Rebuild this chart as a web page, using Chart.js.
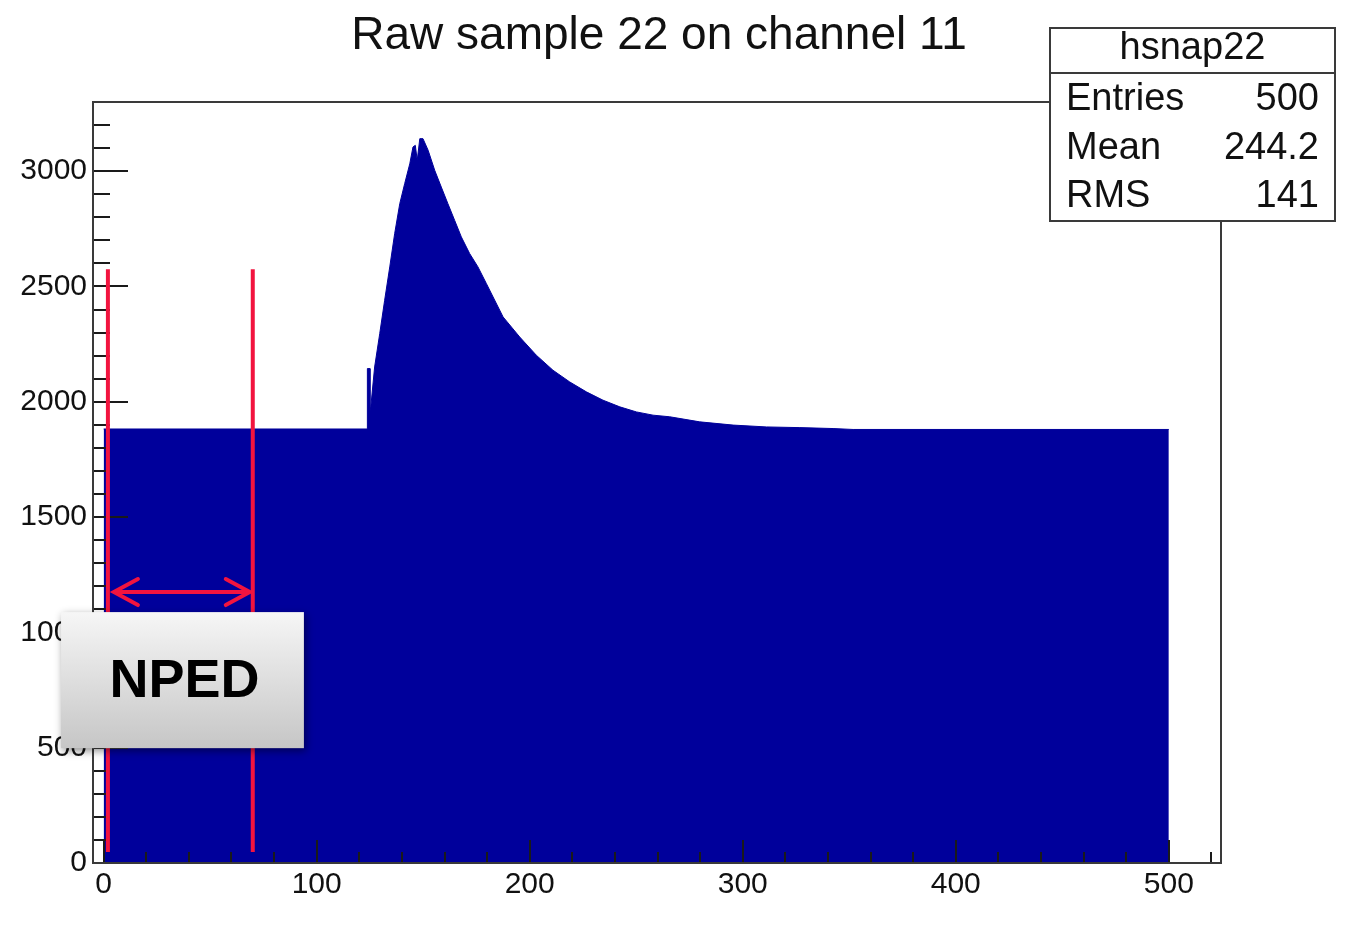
<!DOCTYPE html>
<html>
<head>
<meta charset="utf-8">
<title>Raw sample 22 on channel 11</title>
<script src="https://cdn.jsdelivr.net/npm/chart.js@4.4.0/dist/chart.umd.min.js"></script>
<style>
  html, body { margin: 0; padding: 0; background: #fff; }
  canvas { display: block; }
</style>
</head>
<body>
<canvas id="chart-raw" width="1347" height="929"></canvas>
<script>
// outline of the filled histogram (sample index -> ADC)
const sampleBins = [0, 123.8, 123.8, 125, 125, 125.4, 127.2, 129.6, 131.9, 134.3, 136.6, 139, 141.3, 143.7, 145.2, 146.3, 147.2, 148.4, 149.9, 152.3,
  155.4, 158.5, 161.6, 164.8, 167.9, 171.8, 175.7, 179.7, 187.5, 195.3, 203.1, 210.9, 218.8, 226.6, 234.4, 242.3, 250.1, 257.9, 265.7,
  279.8, 295.5, 311.1, 326.8, 342.4, 351.8, 500];
const adcValues = [1882, 1882, 2144, 2144, 1960, 1978, 2151, 2296, 2440, 2585, 2729, 2859, 2946, 3032, 3105, 3112, 3047, 3141, 3141, 3091,
  3004, 2931, 2859, 2786, 2715, 2643, 2585, 2512, 2368, 2281, 2202, 2137, 2086, 2043, 2007, 1978, 1956, 1942, 1935,
  1913, 1899, 1891, 1888, 1884, 1880, 1880];

const xTickValues = [0, 100, 200, 300, 400, 500];
const yTickValues = [0, 500, 1000, 1500, 2000, 2500, 3000];
const titleText = 'Raw sample 22 on channel 11';
const statsTitle = 'hsnap22';
const statsLabels = ['Entries', 'Mean', 'RMS'];
const statsValues = ['500', '244.2', '141'];
const pedLines = [2, 70];          // red markers (sample index)
const pedArrowY = 1175;
const pedLineRange = [48, 2575];
const pedLabel = 'NPED';

const FONT = '"Liberation Sans", Arial, Helvetica, sans-serif';
const BLUE = '#00009b';
const RED = '#f2143f';

const rootFrame = {
  id: 'rootFrame',
  afterDatasetsDraw(chart) {
    const { ctx, chartArea: a, scales: { x, y } } = chart;
    ctx.save();
    ctx.strokeStyle = '#1a1a1a';
    ctx.lineWidth = 2;
    // x ticks (inside, every 20)
    for (let v = 0; v <= 520; v += 20) {
      const px = Math.round(x.getPixelForValue(v));
      const len = v % 100 === 0 ? 23 : 11;
      ctx.beginPath(); ctx.moveTo(px, a.bottom); ctx.lineTo(px, a.bottom - len); ctx.stroke();
    }
    // y ticks (inside, every 100)
    for (let v = 0; v <= 3300; v += 100) {
      const py = Math.round(y.getPixelForValue(v));
      const len = v % 500 === 0 ? 35 : 17;
      ctx.beginPath(); ctx.moveTo(a.left, py); ctx.lineTo(a.left + len, py); ctx.stroke();
    }
    // frame
    ctx.strokeStyle = '#3a3a3a';
    ctx.strokeRect(a.left, a.top, a.right - a.left, a.bottom - a.top);
    ctx.restore();
  },
  afterDraw(chart) {
    const { ctx, chartArea: a, scales: { x, y } } = chart;
    ctx.save();

    // NPED markers
    ctx.strokeStyle = RED;
    ctx.lineWidth = 4;
    pedLines.forEach(v => {
      const px = x.getPixelForValue(v);
      ctx.beginPath(); ctx.moveTo(px, y.getPixelForValue(pedLineRange[0])); ctx.lineTo(px, y.getPixelForValue(pedLineRange[1])); ctx.stroke();
    });
    const ay = y.getPixelForValue(pedArrowY);
    const ax0 = x.getPixelForValue(pedLines[0]) + 6, ax1 = x.getPixelForValue(pedLines[1]) - 3;
    ctx.beginPath(); ctx.moveTo(ax0, ay); ctx.lineTo(ax1, ay); ctx.stroke();
    ctx.lineCap = 'round';
    ctx.beginPath();
    ctx.moveTo(ax0 + 24, ay - 13); ctx.lineTo(ax0, ay); ctx.lineTo(ax0 + 24, ay + 13);
    ctx.moveTo(ax1 - 24, ay - 13); ctx.lineTo(ax1, ay); ctx.lineTo(ax1 - 24, ay + 13);
    ctx.stroke();

    // NPED label box
    const bx0 = x.getPixelForValue(-20), bx1 = x.getPixelForValue(94);
    const by0 = y.getPixelForValue(1088), by1 = y.getPixelForValue(498);
    const grad = ctx.createLinearGradient(0, by0, 0, by1);
    grad.addColorStop(0, '#f6f6f6');
    grad.addColorStop(1, '#c6c6c6');
    ctx.save();
    ctx.shadowColor = 'rgba(0,0,0,0.45)';
    ctx.shadowBlur = 8;
    ctx.shadowOffsetX = 2;
    ctx.shadowOffsetY = 3;
    ctx.fillStyle = grad;
    ctx.fillRect(bx0, by0, bx1 - bx0, by1 - by0);
    ctx.restore();
    ctx.fillStyle = '#000';
    ctx.font = 'bold 54px ' + FONT;
    ctx.textAlign = 'center';
    ctx.textBaseline = 'middle';
    ctx.fillText(pedLabel, (bx0 + bx1) / 2 + 2, (by0 + by1) / 2 + 2);

    // title
    ctx.fillStyle = '#111';
    ctx.font = '46px ' + FONT;
    ctx.fillText(titleText, (a.left + a.right) / 2 + 2, 36);

    // stats box
    const sx0 = a.right - 171, sx1 = a.right + 114, sy0 = 28, sy1 = 221, hy = 73;
    ctx.fillStyle = '#fff';
    ctx.fillRect(sx0, sy0, sx1 - sx0, sy1 - sy0);
    ctx.strokeStyle = '#3a3a3a';
    ctx.lineWidth = 2;
    ctx.strokeRect(sx0, sy0, sx1 - sx0, sy1 - sy0);
    ctx.beginPath(); ctx.moveTo(sx0, hy); ctx.lineTo(sx1, hy); ctx.stroke();
    ctx.fillStyle = '#111';
    ctx.font = '38px ' + FONT;
    ctx.textAlign = 'center';
    ctx.fillText(statsTitle, (sx0 + sx1) / 2, 49);
    statsLabels.forEach((lab, i) => {
      const ry = 100 + i * 48.5;
      ctx.textAlign = 'left';
      ctx.fillText(lab, sx0 + 16, ry);
      ctx.textAlign = 'right';
      ctx.fillText(statsValues[i], sx1 - 16, ry);
    });
    ctx.restore();
  }
};

new Chart(document.getElementById('chart-raw'), {
  type: 'line',
  data: {
    datasets: [{
      label: statsTitle,
      data: sampleBins.map((b, i) => ({ x: b, y: adcValues[i] })),
      borderColor: BLUE,
      backgroundColor: BLUE,
      borderWidth: 1,
      pointRadius: 0,
      tension: 0,
      fill: 'origin'
    }]
  },
  options: {
    responsive: false,
    animation: false,
    layout: { padding: { left: 0, top: 102, right: 126, bottom: 0 } },
    plugins: { legend: { display: false }, title: { display: false }, tooltip: { enabled: false } },
    scales: {
      x: {
        type: 'linear',
        min: -5,
        max: 524.5,
        grid: { display: false, drawTicks: false },
        border: { display: false },
        afterBuildTicks: s => { s.ticks = xTickValues.map(v => ({ value: v })); },
        afterFit: s => { s.height = 66; },
        ticks: { color: '#111', font: { family: FONT, size: 30 }, padding: 4, maxRotation: 0, autoSkip: false, callback: v => String(v) }
      },
      y: {
        min: 0,
        max: 3300,
        grid: { display: false, drawTicks: false },
        border: { display: false },
        afterBuildTicks: s => { s.ticks = yTickValues.map(v => ({ value: v })); },
        afterFit: s => { s.width = 93; },
        ticks: { color: '#111', font: { family: FONT, size: 30 }, padding: 6, autoSkip: false, callback: v => String(v) }
      }
    }
  },
  plugins: [rootFrame]
});
</script>
</body>
</html>
